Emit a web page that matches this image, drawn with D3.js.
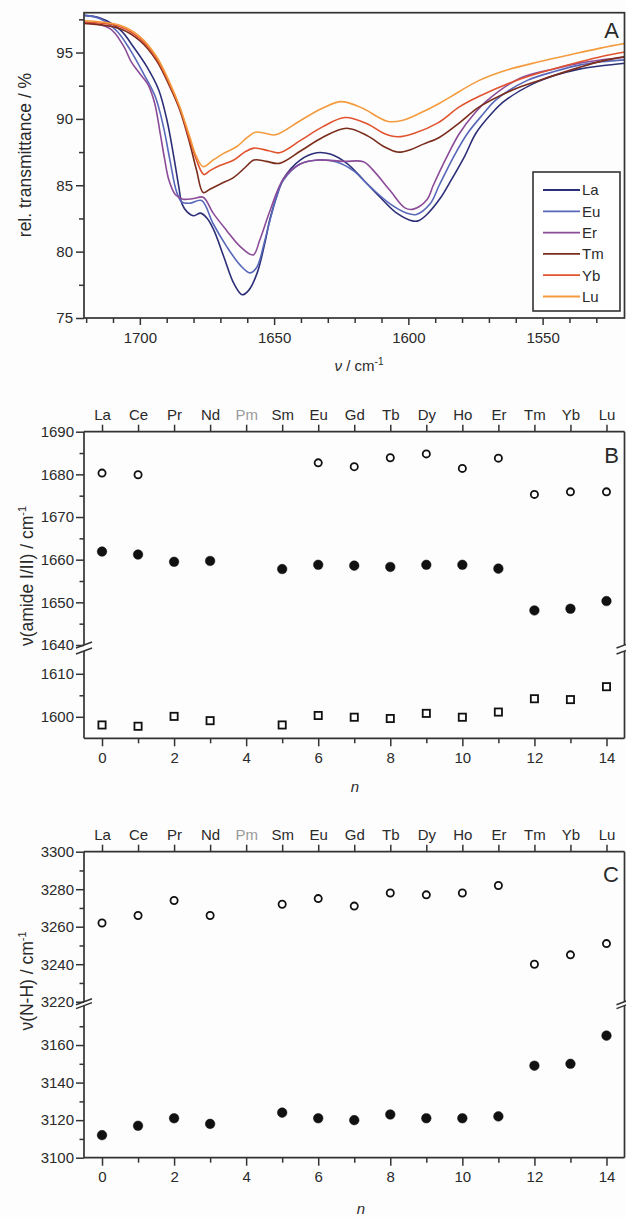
<!DOCTYPE html>
<html>
<head>
<meta charset="utf-8">
<script src="https://cdn.jsdelivr.net/npm/d3@7"></script>
<style>
  html, body { margin: 0; padding: 0; background: #ffffff; }
  svg { display: block; font-family: "Liberation Sans", Arial, sans-serif; }
</style>
</head>
<body>
<svg id="fig" width="626" height="1217"></svg>
<script>
// ---------- Panel A: IR spectra (wavenumber / cm-1, rel. transmittance / %) ----------
const specLa = [[1721,97.8],[1714.8,97.6],[1707.3,96.7],[1702.3,95.4],[1697.3,93.9],[1693,92.2],[1689.9,89.9],[1687.4,87.2],[1685.5,84.9],[1684.3,83.6],[1682.4,83.0],[1679.9,82.7],[1677.4,82.9],[1674.9,82.5],[1672.4,81.6],[1668.7,79.6],[1665,77.6],[1661.9,76.75],[1659.4,77.1],[1656.3,78.4],[1653.5,80.6],[1651.5,82.5],[1648.5,84.5],[1646.5,85.5],[1640.3,86.9],[1634.1,87.45],[1629.1,87.35],[1622.9,86.65],[1616.7,85.4],[1610.5,84.1],[1604.3,82.9],[1598.1,82.3],[1596,82.35],[1593.1,82.8],[1588.2,84.0],[1584.6,85.2],[1579,87.2],[1574.9,88.9],[1569,90.4],[1564.5,91.3],[1554,92.6],[1545,93.3],[1536.4,93.75],[1528,94.0],[1519,94.2]];
const specEu = [[1721,97.8],[1714.8,97.55],[1708.5,96.6],[1703.6,95.2],[1698.6,93.4],[1694.3,91.7],[1691.2,89.4],[1688.8,86.9],[1686.3,84.5],[1684.4,83.75],[1681.4,83.65],[1677,83.85],[1672.7,82.1],[1667.7,80.4],[1662.7,79.0],[1659,78.4],[1656.5,78.8],[1653.5,80.8],[1651.5,82.4],[1648.5,84.5],[1646.5,85.4],[1640.3,86.6],[1632.9,86.9],[1626.7,86.75],[1620.5,86.1],[1614.3,84.9],[1606.8,83.6],[1600.6,82.9],[1597,82.8],[1591.9,83.6],[1588.5,85.0],[1583,87.2],[1578,88.9],[1572,90.4],[1567.6,91.4],[1555.7,92.9],[1545,93.6],[1536.4,94.05],[1528,94.3],[1519,94.45]];
const specEr = [[1721,97.3],[1711.1,96.8],[1706.1,95.5],[1703.2,94.3],[1700,93.4],[1697,92.6],[1694.5,91.2],[1692.5,89.0],[1690.8,87.0],[1689.2,85.4],[1686.8,84.3],[1683.9,83.95],[1680,84.0],[1676.4,84.1],[1672.7,82.9],[1667.7,81.6],[1662.7,80.4],[1657.8,79.75],[1655.3,80.9],[1651.5,83.1],[1646.5,85.5],[1640.3,86.6],[1634,86.9],[1624.2,86.8],[1616.7,86.77],[1613,86.1],[1606.8,84.6],[1601.3,83.3],[1598.1,83.2],[1593.1,83.9],[1590.7,85.0],[1586,87.0],[1581,88.9],[1575,90.5],[1570.6,91.4],[1558.6,93.05],[1545,93.8],[1536.4,94.2],[1528,94.45],[1519,94.65]];
const specTm = [[1721,97.2],[1707.4,96.8],[1700,95.9],[1693.8,94.4],[1688.8,92.4],[1685.1,90.65],[1681.4,88.15],[1678.9,86.15],[1676.4,84.45],[1673.9,84.7],[1670,85.1],[1665,85.6],[1661,86.3],[1657.5,86.9],[1653,86.8],[1648,86.65],[1640,87.6],[1632,88.6],[1623,89.3],[1615,88.7],[1609,87.9],[1604,87.5],[1599,87.7],[1594.4,88.1],[1588.5,88.6],[1581,89.7],[1573.6,90.9],[1561,92.2],[1551.3,92.9],[1536,93.9],[1528,94.35],[1519,94.7]];
const specYb = [[1721,97.3],[1707.4,96.95],[1700,96.05],[1693.8,94.55],[1688.8,92.55],[1685.1,90.8],[1681.4,88.4],[1678.9,86.9],[1677,86.0],[1676,85.8],[1673.9,86.1],[1670,86.5],[1665,86.9],[1661,87.5],[1657.5,87.8],[1652,87.6],[1648,87.45],[1640,88.4],[1632,89.4],[1623.5,90.1],[1615,89.6],[1609,88.9],[1604,88.65],[1598,88.9],[1589,89.7],[1581,90.9],[1573.6,91.7],[1561,92.8],[1551.3,93.45],[1536,94.3],[1528,94.7],[1519,95.05]];
const specLu = [[1721,97.4],[1707.4,97.05],[1700,96.2],[1693.8,94.7],[1688.8,92.7],[1685.1,90.9],[1681.4,88.65],[1678.9,87.15],[1676.4,86.4],[1672.7,86.9],[1668.8,87.4],[1664,87.9],[1660,88.6],[1657,89.0],[1653,88.9],[1649.5,88.8],[1640,89.9],[1632,90.8],[1625,91.3],[1617,90.8],[1611,90.1],[1607.5,89.8],[1602,89.9],[1596,90.4],[1588.2,91.2],[1584,91.7],[1573.6,92.9],[1563,93.7],[1551.3,94.3],[1536,95.0],[1528,95.35],[1519,95.7]];
const spectraNames = ["La","Eu","Er","Tm","Yb","Lu"];
const spectraColors = ["#2c2f78","#5767b9","#8b4b98","#7a2d1c","#e1532e","#f39b3e"];
const spectraData = [specLa, specEu, specEr, specTm, specYb, specLu];
const transTicks = [75, 80, 85, 90, 95];
const waveTicks = [1550, 1600, 1650, 1700];

// ---------- Panels B and C: band positions vs. n ----------
const elements = ["La","Ce","Pr","Nd","Pm","Sm","Eu","Gd","Tb","Dy","Ho","Er","Tm","Yb","Lu"];
const nTicks = [0, 2, 4, 6, 8, 10, 12, 14];
const amideHigh = [1680.3,1679.9,null,null,null,null,1682.7,1681.8,1683.9,1684.8,1681.4,1683.8,1675.3,1675.9,1675.9];
const amideLow  = [1661.9,1661.2,1659.5,1659.7,null,1657.8,1658.8,1658.6,1658.3,1658.8,1658.8,1657.9,1648.1,1648.5,1650.3];
const amideII   = [1598.1,1597.8,1600.1,1599.1,null,1598.1,1600.3,1599.9,1599.6,1600.8,1599.9,1601.1,1604.2,1604.0,1607.0];
const nhHigh    = [3262,3266,3274,3266,null,3272,3275,3271,3278,3277,3278,3282,3240,3245,3251];
const nhLow     = [3112,3117,3121,3118,null,3124,3121,3120,3123,3121,3121,3122,3149,3150,3165];
const amideUpperTicks = [1640, 1650, 1660, 1670, 1680, 1690];
const amideLowerTicks = [1600, 1610];
const nhUpperTicks = [3220, 3240, 3260, 3280, 3300];
const nhLowerTicks = [3100, 3120, 3140, 3160];

const svg = d3.select("#fig");
const INK = "#2a2a2a";
const FRAME = "#333333";
const TICKFONT = 15;
const TITLEFONT = 17.5;

svg.append("rect").attr("width", 626).attr("height", 1217).attr("fill", "#fdfdfd");

function styleAxis(g) {
  g.select(".domain").remove();
  g.selectAll(".tick line").attr("stroke", FRAME).attr("stroke-width", 1.5);
  g.selectAll(".tick text").attr("fill", INK).attr("font-size", TICKFONT)
    .attr("font-family", "'Liberation Sans', Arial, sans-serif");
  return g;
}

// ================= Panel A =================
const L = 84, R = 624.5;
const xA = d3.scaleLinear().domain([1720.8, 1519.5]).range([L, R]);
const yA = d3.scaleLinear().domain([75, 98]).range([318, 12.7]);

const gA = svg.append("g");
gA.append("clipPath").attr("id", "clipA").append("rect")
  .attr("x", L).attr("y", yA(98)).attr("width", R - L).attr("height", yA(75) - yA(98));

const lineA = d3.line().x(d => xA(d[0])).y(d => yA(d[1])).curve(d3.curveCatmullRom.alpha(0.5));
gA.append("g").attr("clip-path", "url(#clipA)")
  .selectAll("path").data(spectraData).join("path")
  .attr("d", lineA).attr("fill", "none")
  .attr("stroke", (d, i) => spectraColors[i]).attr("stroke-width", 1.6)
  .attr("stroke-linejoin", "round");

// axes A
styleAxis(gA.append("g").attr("transform", `translate(0,${yA(75)})`)
  .call(d3.axisBottom(xA).tickValues(d3.range(1530, 1721, 10).filter(v => v % 50 !== 0)).tickSize(5).tickFormat("")));
styleAxis(gA.append("g").attr("transform", `translate(0,${yA(75)})`)
  .call(d3.axisBottom(xA).tickValues(waveTicks).tickSize(7).tickPadding(7).tickFormat(d3.format("d"))));
styleAxis(gA.append("g").attr("transform", `translate(${L},0)`)
  .call(d3.axisLeft(yA).tickValues([77.5, 82.5, 87.5, 92.5, 97.5]).tickSize(5).tickFormat("")));
styleAxis(gA.append("g").attr("transform", `translate(${L},0)`)
  .call(d3.axisLeft(yA).tickValues(transTicks).tickSize(8).tickPadding(3).tickFormat(d3.format("d"))));

gA.append("rect").attr("x", L).attr("y", yA(98)).attr("width", R - L).attr("height", yA(75) - yA(98))
  .attr("fill", "none").attr("stroke", FRAME).attr("stroke-width", 1.7);

gA.append("text").attr("transform", `translate(31,155) rotate(-90)`)
  .attr("text-anchor", "middle").attr("font-size", TITLEFONT).attr("fill", INK)
  .text("rel. transmittance / %");

const xTitleA = gA.append("text").attr("x", 359).attr("y", 371).attr("text-anchor", "middle")
  .attr("font-size", 15).attr("fill", INK);
xTitleA.append("tspan").attr("font-style", "italic").text("ν");
xTitleA.append("tspan").text(" / cm");
xTitleA.append("tspan").attr("font-size", 10).attr("dy", -6).text("-1");

gA.append("text").attr("x", 619).attr("y", 38).attr("text-anchor", "end")
  .attr("font-size", 22).attr("fill", INK).text("A");

// legend
const leg = gA.append("g");
leg.append("rect").attr("x", 533).attr("y", 172).attr("width", 87).attr("height", 139)
  .attr("fill", "#ffffff").attr("stroke", FRAME).attr("stroke-width", 1.6);
spectraNames.forEach((name, i) => {
  const y = 190 + i * 21.3;
  leg.append("line").attr("x1", 543).attr("x2", 580).attr("y1", y).attr("y2", y)
    .attr("stroke", spectraColors[i]).attr("stroke-width", 1.8);
  leg.append("text").attr("x", 582).attr("y", y).attr("dy", "0.36em")
    .attr("font-size", 15).attr("fill", INK).text(name);
});

// ================= Broken-axis scatter panels =================
function brokenPanel(opt) {
  const g = svg.append("g");
  const x = d3.scaleLinear().domain([-0.5, 14.5]).range([L, R]);
  const yU = d3.scaleLinear().domain(opt.upperDomain).range(opt.upperRange);
  const yLo = d3.scaleLinear().domain(opt.lowerDomain).range(opt.lowerRange);
  const top = opt.upperRange[1], bottom = opt.lowerRange[0];
  const bU = opt.upperRange[0], bL = opt.lowerRange[1];

  // frame lines
  const seg = (x1, y1, x2, y2) => g.append("line").attr("x1", x1).attr("y1", y1).attr("x2", x2).attr("y2", y2)
    .attr("stroke", FRAME).attr("stroke-width", 1.7);
  seg(L, top, R, top);
  seg(L, bottom, R, bottom);
  [L, R].forEach(xx => { seg(xx, top, xx, bU); seg(xx, bL, xx, bottom); });
  // break marks
  [L, R].forEach(xx => {
    [bU, bL].forEach(yy => {
      g.append("line").attr("x1", xx - 8).attr("y1", yy + 3).attr("x2", xx + 8).attr("y2", yy - 3)
        .attr("stroke", FRAME).attr("stroke-width", 1.5);
    });
  });

  // top axis with element symbols
  const ta = styleAxis(g.append("g").attr("transform", `translate(0,${top})`)
    .call(d3.axisTop(x).tickValues(d3.range(15)).tickSize(7).tickPadding(5).tickFormat(i => elements[i])));
  ta.selectAll(".tick text").attr("fill", (d) => elements[d] === "Pm" ? "#9a9a9a" : INK);

  // bottom axis n
  styleAxis(g.append("g").attr("transform", `translate(0,${bottom})`)
    .call(d3.axisBottom(x).tickValues(d3.range(1, 15, 2)).tickSize(5).tickFormat("")));
  styleAxis(g.append("g").attr("transform", `translate(0,${bottom})`)
    .call(d3.axisBottom(x).tickValues(nTicks).tickSize(8).tickPadding(6).tickFormat(d3.format("d"))));
  g.append("text").attr("x", opt.nX).attr("y", opt.nY).attr("text-anchor", "middle")
    .attr("font-size", 15).attr("font-style", "italic").attr("fill", INK).text("n");

  // left axis, both segments
  styleAxis(g.append("g").attr("transform", `translate(${L},0)`)
    .call(d3.axisLeft(yU).tickValues(opt.upperMinor).tickSize(4.5).tickFormat("")));
  styleAxis(g.append("g").attr("transform", `translate(${L},0)`)
    .call(d3.axisLeft(yU).tickValues(opt.upperTicks).tickSize(8).tickPadding(2).tickFormat(d3.format("d"))));
  styleAxis(g.append("g").attr("transform", `translate(${L},0)`)
    .call(d3.axisLeft(yLo).tickValues(opt.lowerMinor).tickSize(4.5).tickFormat("")));
  styleAxis(g.append("g").attr("transform", `translate(${L},0)`)
    .call(d3.axisLeft(yLo).tickValues(opt.lowerTicks).tickSize(8).tickPadding(2).tickFormat(d3.format("d"))));

  // y title
  const t = g.append("text").attr("transform", `translate(33,${opt.titleY}) rotate(-90)`)
    .attr("text-anchor", "middle").attr("font-size", TITLEFONT).attr("fill", INK);
  t.append("tspan").text(opt.title);
  t.append("tspan").attr("font-size", 11).attr("dy", -7).text("-1");

  g.append("text").attr("x", 619).attr("y", opt.labelY).attr("text-anchor", "end")
    .attr("font-size", 22).attr("fill", INK).text(opt.label);

  // markers
  opt.series.forEach(s => {
    const pts = s.values.map((v, i) => ({ n: i, v })).filter(d => d.v != null);
    const sc = s.lower ? yLo : yU;
    if (s.shape === "square") {
      g.selectAll(null).data(pts).join("rect")
        .attr("x", d => x(d.n) - 3.6).attr("y", d => sc(d.v) - 3.6)
        .attr("width", 7.2).attr("height", 7.2)
        .attr("fill", "#ffffff").attr("stroke", "#111").attr("stroke-width", 1.8);
    } else {
      g.selectAll(null).data(pts).join("circle")
        .attr("cx", d => x(d.n)).attr("cy", d => sc(d.v))
        .attr("r", s.filled ? 4.8 : 3.6)
        .attr("fill", s.filled ? "#111" : "#ffffff")
        .attr("stroke", "#111").attr("stroke-width", s.filled ? 0.5 : 1.8);
    }
  });
}

brokenPanel({
  upperDomain: [1640, 1690], upperRange: [645, 431.7],
  lowerDomain: [1595, 1615.3], lowerRange: [738.3, 651],
  upperTicks: amideUpperTicks, upperMinor: [1645, 1655, 1665, 1675, 1685],
  lowerTicks: amideLowerTicks, lowerMinor: [1605],
  title: "ν(amide I/II) / cm", titleY: 576, label: "B", labelY: 463,
  nX: 355, nY: 792,
  series: [
    { values: amideHigh, filled: false },
    { values: amideLow, filled: true },
    { values: amideII, shape: "square", lower: true }
  ]
});

brokenPanel({
  upperDomain: [3220, 3300], upperRange: [1001.7, 851.7],
  lowerDomain: [3100, 3181], lowerRange: [1157.7, 1005.6],
  upperTicks: nhUpperTicks, upperMinor: [3230, 3250, 3270, 3290],
  lowerTicks: nhLowerTicks, lowerMinor: [3110, 3130, 3150, 3170],
  title: "ν(N-H) / cm", titleY: 981, label: "C", labelY: 882,
  nX: 361, nY: 1214,
  series: [
    { values: nhHigh, filled: false },
    { values: nhLow, filled: true, lower: true }
  ]
});
</script>
</body>
</html>
